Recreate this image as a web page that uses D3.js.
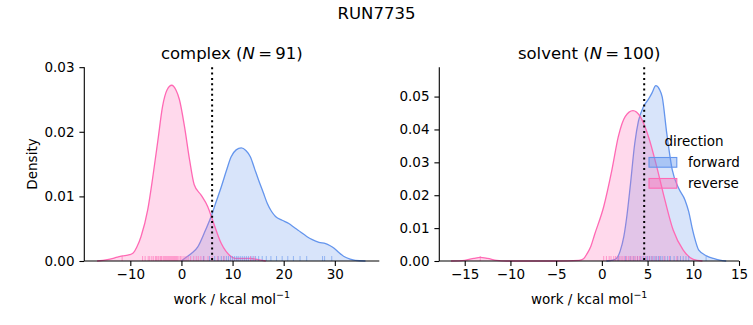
<!DOCTYPE html>
<html>
<head>
<meta charset="utf-8">
<script src="https://cdn.jsdelivr.net/npm/d3@7"></script>
<style>
  body { margin: 0; background: #fff; }
  text { font-family: "DejaVu Sans", sans-serif; fill: #000; }
</style>
</head>
<body>
<svg class="chart"></svg>
<script>
// density curves: [work, density]
var complexForward = [[0,0],[0.6,0.0004],[2,0.0012],[3.2,0.0022],[4.5,0.0044],[5.8,0.0069],[6.8,0.0092],[7.8,0.0115],[8.8,0.0140],[9.7,0.0161],[10.7,0.0172],[11.7,0.0175],[12.6,0.0171],[13.5,0.0161],[14.3,0.0143],[15.1,0.0125],[16.0,0.0106],[16.8,0.0089],[17.6,0.0077],[18.4,0.0069],[19.7,0.0063],[21.0,0.0058],[22.2,0.0051],[23.3,0.0045],[24.5,0.0038],[25.6,0.0033],[26.9,0.0029],[28.2,0.0027],[29.0,0.0024],[29.8,0.0020],[30.8,0.0013],[31.8,0.0007],[33,0.0003],[34,0.0001],[36,0]];
var complexReverse = [[-16.5,0],[-14.5,0.0002],[-12.5,0.0006],[-11.5,0.0008],[-10.5,0.0009],[-9.5,0.0012],[-8.7,0.0022],[-7.9,0.0038],[-6.6,0.0079],[-5.6,0.0130],[-4.6,0.0187],[-3.7,0.0239],[-2.8,0.0265],[-1.9,0.0272],[-1.1,0.0265],[-0.4,0.0250],[0.6,0.0208],[1.6,0.0156],[2.5,0.0118],[3.85,0.0102],[5.15,0.0084],[6.1,0.0063],[7.8,0.0027],[9.7,0.0007],[10.5,0.0004],[12,0.0004],[13.5,0.0004],[15,0.0002],[16.5,0]];
var solventForward = [[0.5,0],[1.2,0.0003],[1.6,0.0008],[2.0,0.0030],[2.4,0.0074],[2.75,0.0140],[3.1,0.0226],[3.6,0.0358],[4.0,0.0425],[4.55,0.0469],[5.1,0.0492],[5.5,0.0512],[5.9,0.0533],[6.3,0.0522],[6.6,0.0499],[7.1,0.0388],[7.7,0.0277],[8.4,0.0221],[9.1,0.0185],[9.5,0.0150],[9.85,0.0104],[10.2,0.0065],[10.6,0.0033],[11.5,0.0015],[12.2,0.0008],[12.9,0.0003],[13.6,0]];
var solventReverse = [[-16.5,0],[-15,0.0002],[-14,0.0008],[-13.3,0.0011],[-12.5,0.0008],[-11.5,0.0002],[-10.4,0],[-5,0],[-2.5,0.0002],[-2.0,0.0007],[-1.6,0.0023],[-1.2,0.0045],[-0.8,0.0080],[0.2,0.0165],[1.1,0.0277],[1.8,0.0378],[2.55,0.0439],[3.4,0.0457],[4.2,0.0439],[5.1,0.0378],[6.0,0.0287],[6.9,0.0185],[7.8,0.0094],[8.9,0.0033],[10.0,0.0005],[11,0]];

// rug samples (approximate)
var complexForwardRug = [4.3,5.5,6.5,7.2,7.8,8.3,8.8,9.2,9.6,10.0,10.4,10.8,11.1,11.5,11.9,12.3,12.7,13.1,13.6,14.0,14.5,15.1,15.8,16.6,17.5,18.6,19.7,20.8,21.9,23.2,24.5,27.6,28.0,29.4];
var complexReverseRug = [-11.6,-7.6,-7.1,-6.5,-6.2,-5.8,-5.5,-5.1,-4.9,-4.6,-4.4,-4.1,-3.9,-3.6,-3.4,-3.2,-3.0,-2.8,-2.6,-2.4,-2.2,-2.0,-1.8,-1.6,-1.4,-1.2,-1.0,-0.8,-0.5,-0.2,0.1,0.5,0.9,1.3,1.8,2.4,2.9,3.3,3.8,4.4,5.2,6.0,7.1,8.3,13.5,14.2];
var solventForwardRug = [1.8,2.6,3.1,3.5,3.9,4.2,4.5,4.8,5.0,5.2,5.4,5.6,5.8,6.0,6.2,6.4,6.6,6.9,7.2,7.5,7.9,8.3,8.6,8.9,9.2,9.5,11.4];
var solventReverseRug = [-13.3,0.2,0.5,0.8,1.0,1.3,1.5,1.7,1.9,2.1,2.3,2.5,2.7,2.9,3.1,3.3,3.5,3.7,3.9,4.1,4.3,4.6,4.9,5.2,5.5,5.9,6.3,6.8,7.4,8.2];

var complexTicksX = [-10,0,10,20,30];
var complexTicksY = [0,0.01,0.02,0.03];
var solventTicksX = [-15,-10,-5,0,5,10,15];
var solventTicksY = [0,0.01,0.02,0.03,0.04,0.05];
var directions = ["forward","reverse"];

var width = 753,
    height = 325;

var colors = {forward:"#6495ED", reverse:"#FF69B4"};

var svg = d3.select('.chart')
            .attr("width",width)
            .attr("height",height);

svg.append("text")
   .attr("x",376.5).attr("y",19)
   .attr("text-anchor","middle")
   .style("font-size","16.5px")
   .text("RUN7735");

var panels = [
  {name:"complex", n:91, left:84.3, right:379.3, xDomain:[-19,38.7], yDomain:[0,0.02998],
   xTicks:complexTicksX, yTicks:complexTicksY, mark:6.0,
   curves:{forward:complexForward, reverse:complexReverse},
   rugs:{forward:complexForwardRug, reverse:complexReverseRug}, ylabel:true},
  {name:"solvent", n:100, left:439.3, right:739, xDomain:[-17.78,15.0], yDomain:[0,0.0589],
   xTicks:solventTicksX, yTicks:solventTicksY, mark:4.63,
   curves:{forward:solventForward, reverse:solventReverse},
   rugs:{forward:solventForwardRug, reverse:solventReverseRug}, ylabel:false}
];

var plotTop = 67.3, plotBottom = 261;

panels.forEach(function(p){
  var x = d3.scaleLinear().domain(p.xDomain).range([p.left,p.right]);
  var y = d3.scaleLinear().domain(p.yDomain).range([plotBottom,plotTop]);

  var g = svg.append("g");

  var area = d3.area()
    .x(function(d){return x(d[0]);})
    .y0(y(0))
    .y1(function(d){return y(d[1]);})
    .curve(d3.curveMonotoneX);
  var line = d3.line()
    .x(function(d){return x(d[0]);})
    .y(function(d){return y(d[1]);})
    .curve(d3.curveMonotoneX);

  directions.forEach(function(dir){
    g.append("path")
     .datum(p.curves[dir])
     .attr("d",area)
     .attr("fill",colors[dir])
     .attr("fill-opacity",0.25);
    g.append("path")
     .datum(p.curves[dir])
     .attr("d",line)
     .attr("fill","none")
     .attr("stroke",colors[dir])
     .attr("stroke-width",1.3);
  });

  directions.forEach(function(dir){
    g.selectAll(".rug-"+dir).data(p.rugs[dir]).enter()
     .append("line")
     .attr("class","rug-"+dir)
     .attr("x1",function(d){return x(d);})
     .attr("x2",function(d){return x(d);})
     .attr("y1",plotBottom)
     .attr("y2",plotBottom-5)
     .attr("stroke",colors[dir])
     .attr("stroke-opacity",0.6)
     .attr("stroke-width",1);
  });

  // dotted marker line
  g.append("line")
   .attr("x1",x(p.mark)).attr("x2",x(p.mark))
   .attr("y1",plotTop).attr("y2",plotBottom)
   .attr("stroke","#000")
   .attr("stroke-width",2)
   .attr("stroke-dasharray","2,3.3");

  var xAxis = g.append("g")
   .attr("transform","translate(0,"+plotBottom+")")
   .call(d3.axisBottom(x).tickValues(p.xTicks).tickSize(4.9).tickPadding(3.5)
         .tickFormat(function(d){return d < 0 ? "\u2212"+Math.abs(d) : d;}));
  var yAxis = g.append("g")
   .attr("transform","translate("+p.left+",0)")
   .call(d3.axisLeft(y).tickValues(p.yTicks).tickSize(4.9).tickPadding(4.9)
         .tickFormat(d3.format(".2f")));

  [xAxis,yAxis].forEach(function(a){
    a.select(".domain").attr("stroke","#000").attr("stroke-width",1.1);
    a.selectAll(".tick line").attr("stroke","#000").attr("stroke-width",1.1);
    a.selectAll(".tick text").style("font-size","13.5px").style("font-family","DejaVu Sans").attr("fill","#000");
  });
  // plain spines, no outer ticks
  xAxis.select(".domain").attr("d","M"+p.left+",0H"+p.right);
  yAxis.select(".domain").attr("d","M0,"+plotBottom+"V"+plotTop);

  var cx = (p.left+p.right)/2;
  var t = svg.append("text")
   .attr("x",cx).attr("y",59)
   .attr("text-anchor","middle")
   .style("font-size","16.5px");
  t.append("tspan").text(p.name+" (");
  t.append("tspan").style("font-style","italic").text("N");
  t.append("tspan").text("\u2009=\u2009"+p.n+")");

  var xl = svg.append("text")
   .attr("x",cx).attr("y",304)
   .attr("text-anchor","middle")
   .style("font-size","13.5px");
  xl.append("tspan").text("work / kcal mol");
  xl.append("tspan").attr("dy",-6).style("font-size","9.5px").text("\u22121");

  if(p.ylabel){
    svg.append("text")
     .attr("transform","translate(37,164) rotate(-90)")
     .attr("text-anchor","middle")
     .style("font-size","13.5px")
     .text("Density");
  }
});

// legend
var legend = svg.append("g");
legend.append("text")
  .attr("x",694).attr("y",146)
  .attr("text-anchor","middle")
  .style("font-size","13.5px")
  .text("direction");

directions.forEach(function(dir,i){
  legend.append("rect")
    .attr("x",649).attr("y",157.5+i*21)
    .attr("width",27.8).attr("height",9.7)
    .attr("fill",colors[dir])
    .attr("fill-opacity",0.4)
    .attr("stroke",colors[dir])
    .attr("stroke-width",1.1);
  legend.append("text")
    .attr("x",688).attr("y",166.5+i*21)
    .style("font-size","13.5px")
    .text(dir);
});
</script>
</body>
</html>
